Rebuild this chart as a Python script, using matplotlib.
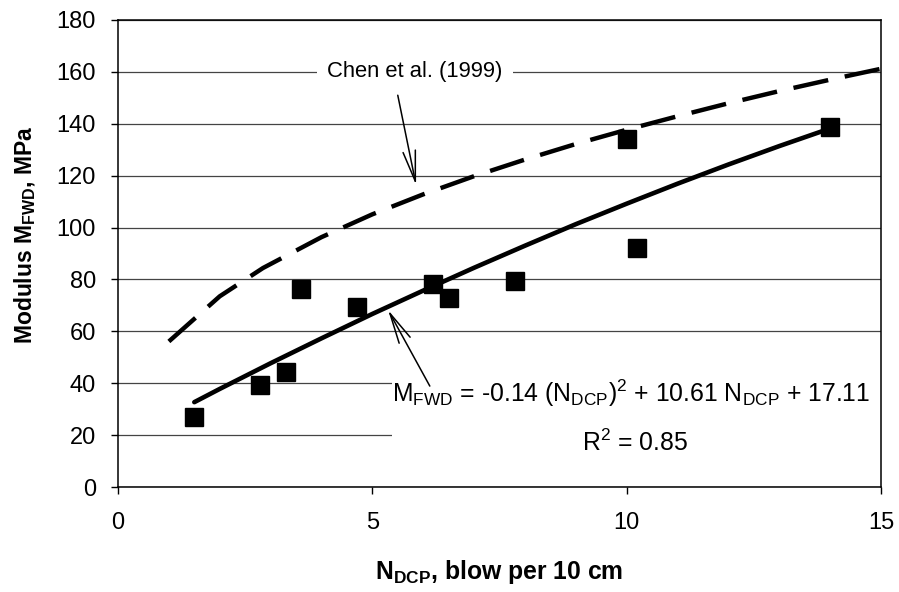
import matplotlib
matplotlib.use("Agg")
import matplotlib.pyplot as plt
from matplotlib.patches import Rectangle

plt.rcParams['font.family'] = ['Liberation Sans', 'DejaVu Sans']
plt.rcParams['mathtext.fontset'] = 'custom'
plt.rcParams['mathtext.rm'] = 'Liberation Sans'
plt.rcParams['mathtext.bf'] = 'Liberation Sans:bold'
plt.rcParams['mathtext.it'] = 'Liberation Sans:italic'

# Measured data (N_DCP, M_FWD)
n_dcp = [1.5, 2.8, 3.3, 3.6, 4.7, 6.2, 6.5, 7.8, 10.0, 10.2, 14.0]
m_fwd = [27.0, 39.5, 44.5, 76.5, 69.5, 78.3, 72.7, 79.3, 134.0, 92.3, 138.7]

# Regression trend line
trend_x = [1.5, 2, 3, 4, 5, 6, 7, 8, 9, 10, 11, 12, 13, 14]
trend_y = [32.7, 37.8, 47.7, 57.3, 66.7, 75.7, 84.5, 93.0, 101.3, 109.2, 116.9, 124.3, 131.4, 138.2]

# Chen et al. (1999) curve
chen_x = [1, 2, 2.85, 4, 5, 6, 7, 8, 9, 10, 11, 12, 13, 14, 15]
chen_y = [56.1, 73.5, 84.4, 96.3, 105.1, 112.8, 119.8, 126.2, 132.2, 137.7, 142.9, 147.9, 152.6, 157.0, 161.2]

x_ticks = [0, 5, 10, 15]
y_ticks = [0, 20, 40, 60, 80, 100, 120, 140, 160, 180]

fig = plt.figure(figsize=(8.99, 5.92), dpi=100)
ax = fig.add_axes([118/899, 1-487/592, (881-118)/899, (487-20)/592])

ax.set_xlim(0, 15)
ax.set_ylim(0, 180)
ax.set_xticks(x_ticks)
ax.set_yticks(y_ticks)
ax.set_axisbelow(True)
ax.yaxis.grid(True, color='#444444', linewidth=0.9)
ax.tick_params(axis='both', direction='out', length=5.3, width=1, labelsize=17)
ax.tick_params(axis='x', pad=12.5)
ax.tick_params(axis='y', pad=10.5)
for s in ax.spines.values():
    s.set_linewidth(1.1)
    s.set_zorder(10)

# white label boxes that interrupt gridlines
ax.add_patch(Rectangle((5.39, 5.0), 9.61, 40.0, facecolor='white', edgecolor='none', zorder=1))
ax.add_patch(Rectangle((3.91, 155.0), 3.86, 10.0, facecolor='white', edgecolor='none', zorder=1))

ax.plot(chen_x, chen_y, color='black', linewidth=3.2, linestyle=(0, (8, 3.8)),
        dash_capstyle='butt', zorder=3)
ax.plot(trend_x, trend_y, color='black', linewidth=3.3, solid_capstyle='round', zorder=3)
ax.plot(n_dcp, m_fwd, linestyle='none', marker='s', markersize=12.5, color='black', zorder=4)

ax.text(5.84, 160, 'Chen et al. (1999)', fontsize=15.8, ha='center', va='center', zorder=5)
ax.annotate('', xy=(5.86, 116.4), xytext=(5.50, 151),
            arrowprops=dict(arrowstyle='->,head_length=2.2,head_width=0.45', lw=1.1,
                            shrinkA=0, shrinkB=0, mutation_scale=10, color='black'), zorder=5)

eq1 = r'M$_{\mathrm{FWD}}$ = -0.14 (N$_{\mathrm{DCP}}$)$^{2}$ + 10.61 N$_{\mathrm{DCP}}$ + 17.11'
eq2 = r'R$^{2}$ = 0.85'
ax.text(10.09, 36.0, eq1, fontsize=17.8, ha='center', va='center', zorder=5)
ax.text(10.16, 17.2, eq2, fontsize=17.8, ha='center', va='center', zorder=5)
ax.annotate('', xy=(5.31, 68.2), xytext=(6.13, 38.9),
            arrowprops=dict(arrowstyle='->,head_length=2.2,head_width=0.45', lw=1.1,
                            shrinkA=0, shrinkB=0, mutation_scale=10, color='black'), zorder=5)

ax.set_xlabel(r'N$_{\mathbf{DCP}}$, blow per 10 cm', fontsize=17.8, fontweight='bold')
ax.set_ylabel(r'Modulus M$_{\mathbf{FWD}}$, MPa', fontsize=16.5, fontweight='bold')
ax.xaxis.set_label_coords(0.5, -0.153)
ax.yaxis.set_label_coords(-0.105, 0.54)

fig.savefig('out.png', dpi=100)
